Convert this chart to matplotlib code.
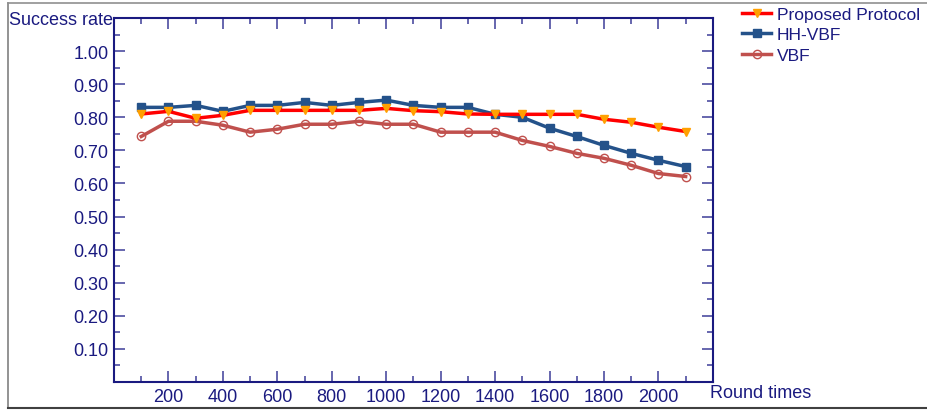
import numpy as np
import matplotlib
matplotlib.use("Agg")
import matplotlib.pyplot as plt
from matplotlib.lines import Line2D

# Round times (x axis)
rounds = [100, 200, 300, 400, 500, 600, 700, 800, 900, 1000, 1100,
          1200, 1300, 1400, 1500, 1600, 1700, 1800, 1900, 2000, 2100]

# success rate
proposed = [0.810, 0.818, 0.797, 0.806, 0.821, 0.821, 0.821, 0.821, 0.821, 0.827, 0.820,
            0.817, 0.810, 0.809, 0.809, 0.809, 0.809, 0.794, 0.785, 0.770, 0.757]
hhvbf = [0.830, 0.830, 0.836, 0.818, 0.836, 0.836, 0.845, 0.836, 0.845, 0.852, 0.836,
         0.830, 0.830, 0.809, 0.800, 0.767, 0.742, 0.715, 0.691, 0.670, 0.651]
vbf = [0.742, 0.788, 0.788, 0.776, 0.755, 0.764, 0.779, 0.779, 0.788, 0.779, 0.779,
       0.755, 0.755, 0.755, 0.730, 0.712, 0.691, 0.676, 0.655, 0.630, 0.621]

navy = "#1a1a80"
plt.rcParams['font.family'] = ['Liberation Sans', 'DejaVu Sans']

fig = plt.figure(figsize=(9.27, 4.14), dpi=100)
ax = fig.add_axes([0.123, 0.075, 0.646, 0.879])

# frame lines round the picture (no right side)
fig.lines.append(Line2D([0.009, 0.009], [0.012, 0.99], transform=fig.transFigure,
                        color="#808080", lw=1.2))
fig.lines.append(Line2D([0.009, 1.0], [0.99, 0.99], transform=fig.transFigure,
                        color="#909090", lw=1.2))
fig.lines.append(Line2D([0.009, 1.0], [0.012, 0.012], transform=fig.transFigure,
                        color="#404040", lw=1.5))

ax.plot(rounds, proposed, color="#ff0000", lw=2.5, marker="v", ms=6,
        mfc="#ffa000", mec="#ffa000", label="Proposed Protocol", zorder=4)
ax.plot(rounds, hhvbf, color="#24528a", lw=2.5, marker="s", ms=5.5,
        mfc="#24528a", mec="#24528a", label="HH-VBF", zorder=3)
ax.plot(rounds, vbf, color="#c0504d", lw=2.5, marker="o", ms=6,
        mfc="none", mec="#c0504d", label="VBF", zorder=2)

ax.set_xlim(0, 2200)
ax.set_ylim(0, 1.1)
ax.set_xticks(np.arange(200, 2001, 200))
ax.set_xticks(np.arange(100, 2200, 100), minor=True)
ax.set_yticks(np.arange(0.1, 1.01, 0.1))
ax.set_yticks(np.arange(0.05, 1.1, 0.1), minor=True)
ax.set_yticklabels(["%.2f" % v for v in np.arange(0.1, 1.01, 0.1)])

for s in ax.spines.values():
    s.set_color(navy)
    s.set_linewidth(1.5)
ax.tick_params(which="both", direction="in", top=True, right=True,
               color="#5a5aa8", labelcolor=navy, labelsize=13, width=1.3)
ax.tick_params(which="major", length=8, pad=4)
ax.tick_params(which="minor", length=4)

fig.text(0.01, 0.95, "Success rate", color=navy, fontsize=13, va="center", ha="left")
fig.text(0.766, 0.05, "Round times", color=navy, fontsize=13, va="center", ha="left")

leg = ax.legend(loc="upper left", bbox_to_anchor=(1.037, 1.05), frameon=False,
                fontsize=12.5, handlelength=1.7, handletextpad=0.3,
                labelspacing=0.3, borderaxespad=0)
for t in leg.get_texts():
    t.set_color(navy)

fig.savefig("out.png", dpi=100)
